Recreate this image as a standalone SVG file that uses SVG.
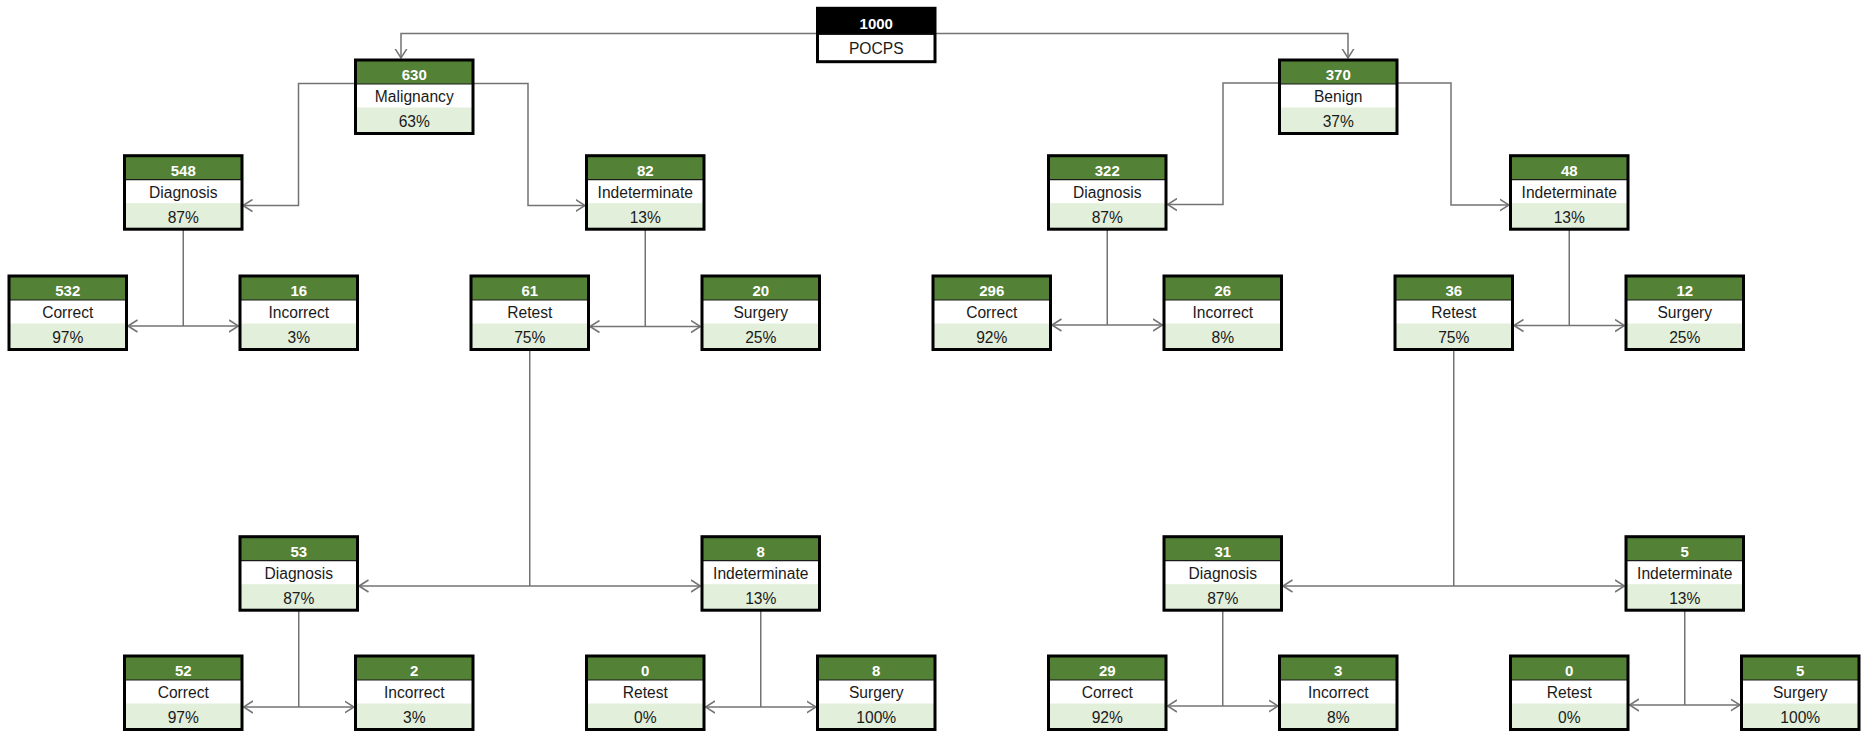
<svg xmlns="http://www.w3.org/2000/svg" width="1863" height="731" viewBox="0 0 1863 731">
<defs>
<style>
.hd{fill:#538135}
.rw{fill:#ffffff}
.lt{fill:#e2efda}
.dv{stroke:#1a1a1a;stroke-width:1.2;fill:none}
.bd{fill:none;stroke:#000000;stroke-width:3}
.num{font-family:"Liberation Sans",Arial,sans-serif;font-size:15px;font-weight:bold;fill:#ffffff;text-anchor:middle}
.lbl{font-family:"Liberation Sans",Arial,sans-serif;font-size:15.6px;fill:#1a1a1a;text-anchor:middle}
.cn{fill:none;stroke:#737373;stroke-width:1.5}
.ar{fill:none;stroke:#737373;stroke-width:1.5}
</style>
<marker id="chev" markerUnits="userSpaceOnUse" viewBox="0 0 10 14" refX="9.5" refY="7" markerWidth="10" markerHeight="14" orient="auto-start-reverse">
<path class="ar" d="M0,1 L9.5,7 L0,13"/>
</marker>
<g id="box">
<rect class="hd" x="0" y="0" width="117.5" height="24"/>
<rect class="rw" x="0" y="24" width="117.5" height="23.5"/>
<rect class="lt" x="0" y="47.5" width="117.5" height="26"/>
<line class="dv" x1="0" y1="24" x2="117.5" y2="24"/>
<rect class="bd" x="0" y="0" width="117.5" height="73.5"/>
</g>
</defs>
<rect width="1863" height="731" fill="#ffffff"/>

<g id="connectors">
<path class="cn" d="M401,58 V33.5 H1348 V58" marker-start="url(#chev)" marker-end="url(#chev)"/>
<path class="cn" d="M355.5,83.5 H298.5 V205.5 H243" marker-end="url(#chev)"/>
<path class="cn" d="M473,83.5 H528 V205.5 H585" marker-end="url(#chev)"/>
<path class="cn" d="M1279.5,83 H1223 V204.5 H1167.5" marker-end="url(#chev)"/>
<path class="cn" d="M1397,83 H1451 V205 H1509" marker-end="url(#chev)"/>

<path class="cn" d="M183.25,229.5 V326"/>
<path class="cn" d="M128,326 H238.5" marker-start="url(#chev)" marker-end="url(#chev)"/>
<path class="cn" d="M645.25,229.5 V326.5"/>
<path class="cn" d="M590,326.5 H700.5" marker-start="url(#chev)" marker-end="url(#chev)"/>
<path class="cn" d="M1107.25,229.5 V325"/>
<path class="cn" d="M1052,325 H1162.5" marker-start="url(#chev)" marker-end="url(#chev)"/>
<path class="cn" d="M1569.25,229.5 V325.5"/>
<path class="cn" d="M1514,325.5 H1624.5" marker-start="url(#chev)" marker-end="url(#chev)"/>

<path class="cn" d="M529.75,349.5 V586"/>
<path class="cn" d="M359,586 H700.5" marker-start="url(#chev)" marker-end="url(#chev)"/>
<path class="cn" d="M1453.75,349.5 V586"/>
<path class="cn" d="M1283,586 H1624.5" marker-start="url(#chev)" marker-end="url(#chev)"/>

<path class="cn" d="M298.75,610.5 V707"/>
<path class="cn" d="M243.5,707 H354" marker-start="url(#chev)" marker-end="url(#chev)"/>
<path class="cn" d="M760.75,610.5 V707"/>
<path class="cn" d="M705.5,707 H816" marker-start="url(#chev)" marker-end="url(#chev)"/>
<path class="cn" d="M1222.75,610.5 V706"/>
<path class="cn" d="M1167.5,706 H1278" marker-start="url(#chev)" marker-end="url(#chev)"/>
<path class="cn" d="M1684.75,610.5 V705"/>
<path class="cn" d="M1629.5,705 H1740" marker-start="url(#chev)" marker-end="url(#chev)"/>
</g>

<g id="root" transform="translate(817.5,8.3)">
<rect x="0" y="0" width="117.5" height="26" fill="#000000"/>
<rect x="0" y="26" width="117.5" height="27.4" fill="#ffffff"/>
<line class="dv" x1="0" y1="26" x2="117.5" y2="26"/>
<rect class="bd" x="0" y="0" width="117.5" height="53.4"/>
<text class="num" x="58.75" y="20.7">1000</text>
<text class="lbl" x="58.75" y="46">POCPS</text>
</g>

<g id="malignancy" transform="translate(355.5,60)"><use href="#box"/><text class="num" x="58.75" y="20">630</text><text class="lbl" x="58.75" y="42.3">Malignancy</text><text class="lbl" x="58.75" y="67.3">63%</text></g>
<g id="benign" transform="translate(1279.5,60)"><use href="#box"/><text class="num" x="58.75" y="20">370</text><text class="lbl" x="58.75" y="42.3">Benign</text><text class="lbl" x="58.75" y="67.3">37%</text></g>

<g id="m-diagnosis" transform="translate(124.5,155.7)"><use href="#box"/><text class="num" x="58.75" y="20">548</text><text class="lbl" x="58.75" y="42.3">Diagnosis</text><text class="lbl" x="58.75" y="67.3">87%</text></g>
<g id="m-indeterminate" transform="translate(586.5,155.7)"><use href="#box"/><text class="num" x="58.75" y="20">82</text><text class="lbl" x="58.75" y="42.3">Indeterminate</text><text class="lbl" x="58.75" y="67.3">13%</text></g>
<g id="b-diagnosis" transform="translate(1048.5,155.7)"><use href="#box"/><text class="num" x="58.75" y="20">322</text><text class="lbl" x="58.75" y="42.3">Diagnosis</text><text class="lbl" x="58.75" y="67.3">87%</text></g>
<g id="b-indeterminate" transform="translate(1510.5,155.7)"><use href="#box"/><text class="num" x="58.75" y="20">48</text><text class="lbl" x="58.75" y="42.3">Indeterminate</text><text class="lbl" x="58.75" y="67.3">13%</text></g>

<g id="m-correct" transform="translate(9,276)"><use href="#box"/><text class="num" x="58.75" y="20">532</text><text class="lbl" x="58.75" y="42.3">Correct</text><text class="lbl" x="58.75" y="67.3">97%</text></g>
<g id="m-incorrect" transform="translate(240,276)"><use href="#box"/><text class="num" x="58.75" y="20">16</text><text class="lbl" x="58.75" y="42.3">Incorrect</text><text class="lbl" x="58.75" y="67.3">3%</text></g>
<g id="m-retest" transform="translate(471,276)"><use href="#box"/><text class="num" x="58.75" y="20">61</text><text class="lbl" x="58.75" y="42.3">Retest</text><text class="lbl" x="58.75" y="67.3">75%</text></g>
<g id="m-surgery" transform="translate(702,276)"><use href="#box"/><text class="num" x="58.75" y="20">20</text><text class="lbl" x="58.75" y="42.3">Surgery</text><text class="lbl" x="58.75" y="67.3">25%</text></g>
<g id="b-correct" transform="translate(933,276)"><use href="#box"/><text class="num" x="58.75" y="20">296</text><text class="lbl" x="58.75" y="42.3">Correct</text><text class="lbl" x="58.75" y="67.3">92%</text></g>
<g id="b-incorrect" transform="translate(1164,276)"><use href="#box"/><text class="num" x="58.75" y="20">26</text><text class="lbl" x="58.75" y="42.3">Incorrect</text><text class="lbl" x="58.75" y="67.3">8%</text></g>
<g id="b-retest" transform="translate(1395,276)"><use href="#box"/><text class="num" x="58.75" y="20">36</text><text class="lbl" x="58.75" y="42.3">Retest</text><text class="lbl" x="58.75" y="67.3">75%</text></g>
<g id="b-surgery" transform="translate(1626,276)"><use href="#box"/><text class="num" x="58.75" y="20">12</text><text class="lbl" x="58.75" y="42.3">Surgery</text><text class="lbl" x="58.75" y="67.3">25%</text></g>

<g id="mr-diagnosis" transform="translate(240,536.7)"><use href="#box"/><text class="num" x="58.75" y="20">53</text><text class="lbl" x="58.75" y="42.3">Diagnosis</text><text class="lbl" x="58.75" y="67.3">87%</text></g>
<g id="mr-indeterminate" transform="translate(702,536.7)"><use href="#box"/><text class="num" x="58.75" y="20">8</text><text class="lbl" x="58.75" y="42.3">Indeterminate</text><text class="lbl" x="58.75" y="67.3">13%</text></g>
<g id="br-diagnosis" transform="translate(1164,536.7)"><use href="#box"/><text class="num" x="58.75" y="20">31</text><text class="lbl" x="58.75" y="42.3">Diagnosis</text><text class="lbl" x="58.75" y="67.3">87%</text></g>
<g id="br-indeterminate" transform="translate(1626,536.7)"><use href="#box"/><text class="num" x="58.75" y="20">5</text><text class="lbl" x="58.75" y="42.3">Indeterminate</text><text class="lbl" x="58.75" y="67.3">13%</text></g>

<g id="mr-correct" transform="translate(124.5,656)"><use href="#box"/><text class="num" x="58.75" y="20">52</text><text class="lbl" x="58.75" y="42.3">Correct</text><text class="lbl" x="58.75" y="67.3">97%</text></g>
<g id="mr-incorrect" transform="translate(355.5,656)"><use href="#box"/><text class="num" x="58.75" y="20">2</text><text class="lbl" x="58.75" y="42.3">Incorrect</text><text class="lbl" x="58.75" y="67.3">3%</text></g>
<g id="mr-retest" transform="translate(586.5,656)"><use href="#box"/><text class="num" x="58.75" y="20">0</text><text class="lbl" x="58.75" y="42.3">Retest</text><text class="lbl" x="58.75" y="67.3">0%</text></g>
<g id="mr-surgery" transform="translate(817.5,656)"><use href="#box"/><text class="num" x="58.75" y="20">8</text><text class="lbl" x="58.75" y="42.3">Surgery</text><text class="lbl" x="58.75" y="67.3">100%</text></g>
<g id="br-correct" transform="translate(1048.5,656)"><use href="#box"/><text class="num" x="58.75" y="20">29</text><text class="lbl" x="58.75" y="42.3">Correct</text><text class="lbl" x="58.75" y="67.3">92%</text></g>
<g id="br-incorrect" transform="translate(1279.5,656)"><use href="#box"/><text class="num" x="58.75" y="20">3</text><text class="lbl" x="58.75" y="42.3">Incorrect</text><text class="lbl" x="58.75" y="67.3">8%</text></g>
<g id="br-retest" transform="translate(1510.5,656)"><use href="#box"/><text class="num" x="58.75" y="20">0</text><text class="lbl" x="58.75" y="42.3">Retest</text><text class="lbl" x="58.75" y="67.3">0%</text></g>
<g id="br-surgery" transform="translate(1741.5,656)"><use href="#box"/><text class="num" x="58.75" y="20">5</text><text class="lbl" x="58.75" y="42.3">Surgery</text><text class="lbl" x="58.75" y="67.3">100%</text></g>
</svg>
